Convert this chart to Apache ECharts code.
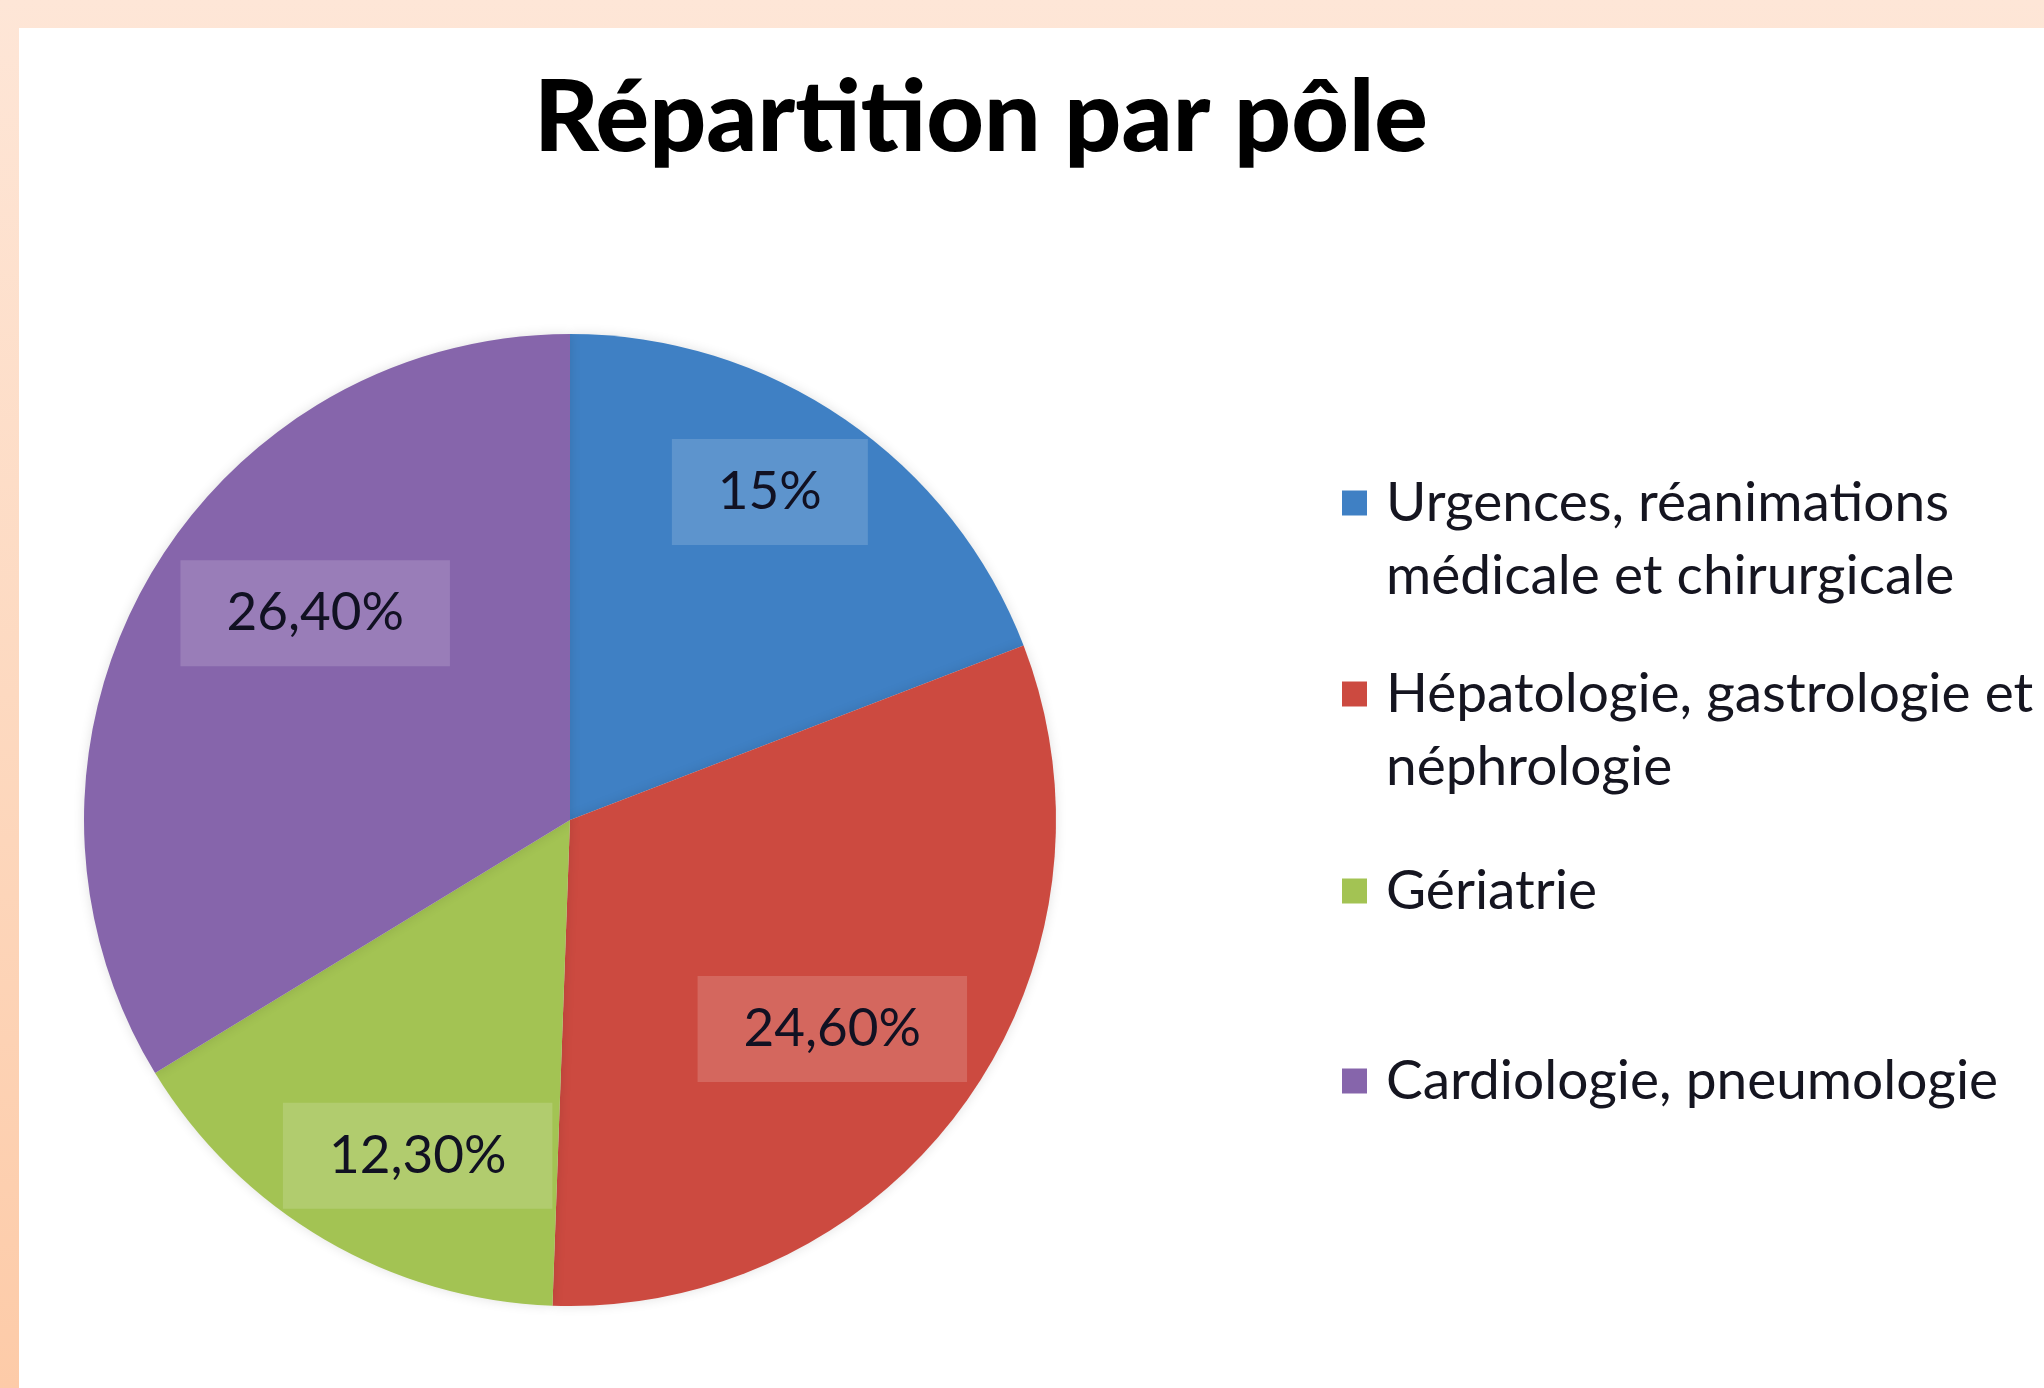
<!DOCTYPE html>
<html>
<head>
<meta charset="utf-8">
<script src="https://cdn.jsdelivr.net/npm/echarts@6/dist/echarts.min.js"></script>
<style>
  html, body { margin: 0; padding: 0; width: 2044px; height: 1388px; overflow: hidden;
    background: linear-gradient(to bottom, #fee6d7 0%, #fdd9c0 50%, #fdcba8 100%); }
  #panel { position: absolute; left: 19px; top: 28px; width: 2025px; height: 1360px; background: #ffffff; }
  #chart { width: 2025px; height: 1360px; }
</style>
</head>
<body>
<div id="panel"><div id="chart"></div></div>
<script>
// ---- data ----
const titleText = 'Répartition par pôle';
const categories = [
  'Urgences, réanimations\nmédicale et chirurgicale',
  'Hépatologie, gastrologie et\nnéphrologie',
  'Gériatrie',
  'Cardiologie, pneumologie'
];
const values = [15, 24.6, 12.3, 26.4];
const valueLabels = ['15%', '24,60%', '12,30%', '26,40%'];
const colors = ['#3f80c4', '#cc4a40', '#a3c353', '#8665ab'];

// ---- layout / style constants ----
const center = [551, 792];
const radius = 486;
const legendLeft = 1323;
const legendIconCenters = [475, 666, 863, 1053];
const legendLineHeight = 73;
const font = 'Lato, "Open Sans", sans-serif';
// Excel-like nudges of the data-label boxes (pixels)
const labelNudge = [[0, -37], [-25, 4], [26, 31], [53, -34]];

const pieData = categories.map((c, i) => ({ name: c, value: values[i], itemStyle: { color: colors[i] } }));

const legends = categories.map((c, i) => {
  const nLines = c.indexOf('\n') >= 0 ? 3 : 1; // leading blank line keeps the first line on the marker
  const H = nLines * legendLineHeight;
  return {
    data: [c],
    orient: 'vertical',
    left: legendLeft,
    top: legendIconCenters[i] - H / 2,
    padding: 0,
    itemWidth: 25,
    itemHeight: 25,
    icon: 'rect',
    formatter: function (name) { return name.indexOf('\n') >= 0 ? '\n' + name : name; },
    textStyle: {
      fontFamily: font,
      fontSize: 55,
      lineHeight: legendLineHeight,
      color: '#151520',
      padding: [0, 0, 0, 14]
    }
  };
});

const chart = echarts.init(document.getElementById('chart'), null, { renderer: 'canvas' });
chart.setOption({
  animation: false,
  title: {
    text: titleText,
    left: 957,
    textAlign: 'center',
    top: 36,
    textStyle: { fontFamily: font, fontWeight: 900, fontSize: 100, color: '#000000' }
  },
  legend: legends,
  series: [
    {
      type: 'pie',
      center: center,
      radius: [0, radius],
      startAngle: 90,
      clockwise: true,
      label: { show: false },
      labelLine: { show: false },
      itemStyle: { borderWidth: 0, shadowColor: 'rgba(0,0,0,0.12)', shadowBlur: 12 },
      emphasis: { disabled: true },
      data: pieData
    },
    {
      type: 'pie',
      center: center,
      radius: [214, radius],
      startAngle: 90,
      clockwise: true,
      silent: true,
      itemStyle: { color: 'rgba(0,0,0,0)', borderWidth: 0 },
      labelLine: { show: false },
      emphasis: { disabled: true },
      label: {
        show: true,
        position: 'inside',
        formatter: function (p) { return valueLabels[p.dataIndex]; },
        fontFamily: font,
        fontSize: 53,
        lineHeight: 62,
        color: '#111122',
        backgroundColor: 'rgba(255,255,255,0.16)',
        padding: [36, 46, 8, 46]
      },
      labelLayout: function (p) {
        const n = labelNudge[p.dataIndex];
        return { dx: n[0], dy: n[1] };
      },
      data: categories.map((c, i) => ({ name: c, value: values[i] }))
    }
  ]
});
</script>
</body>
</html>
